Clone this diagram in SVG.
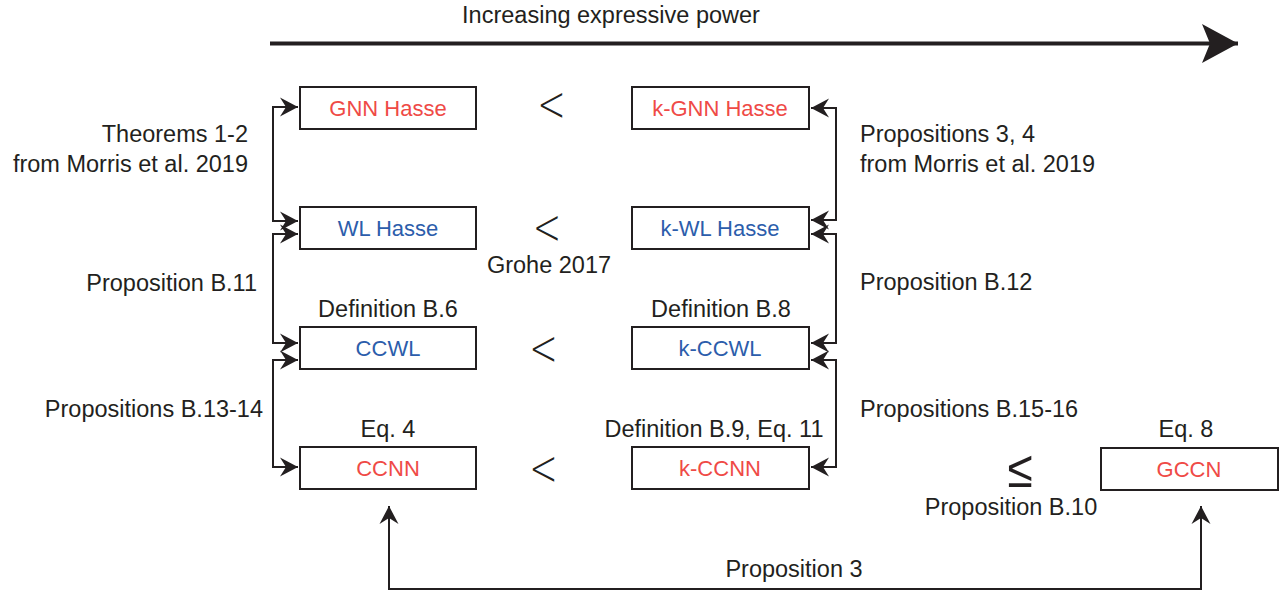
<svg xmlns="http://www.w3.org/2000/svg" width="1284" height="597" viewBox="0 0 1284 597">
<defs>
<style>
text{font-family:"Liberation Sans",Arial,sans-serif;fill:#231f20;font-size:23.5px}
.box{fill:#fff;stroke:#231f20;stroke-width:2}
.lbl{font-size:22px;text-anchor:middle}
.red{fill:#ef4a46}
.blue{fill:#2c5dab}
.mid{text-anchor:middle}
.end{text-anchor:end}
.cmp{font-family:"DejaVu Sans","Liberation Sans",sans-serif;font-size:40px;text-anchor:middle;font-weight:200}
.conn{fill:none;stroke:#231f20;stroke-width:2}
</style>
<marker id="ah" viewBox="-19 -10 20 20" refX="0" refY="0" markerWidth="20" markerHeight="20" markerUnits="userSpaceOnUse" orient="auto-start-reverse">
<path d="M0,0 L-18,-9.5 L-12,0 L-18,9.5 Z" fill="#231f20"/>
</marker>
<marker id="big" viewBox="-37 -20 38 40" refX="0" refY="0" markerWidth="38" markerHeight="40" markerUnits="userSpaceOnUse" orient="auto">
<path d="M0,0 L-36,-19.5 L-28,0 L-36,19.5 Z" fill="#231f20"/>
</marker>
</defs>
<rect width="1284" height="597" fill="#fff"/>

<g id="title">
<text x="611" y="23" class="mid">Increasing expressive power</text>
</g>

<g id="connectors">
<path d="M270,43.5 H1238" stroke="#231f20" stroke-width="4" fill="none" marker-end="url(#big)"/>
<path class="conn" d="M298,107 H273 V221 H298" marker-start="url(#ah)" marker-end="url(#ah)"/>
<path class="conn" d="M298,234 H273 V343 H298" marker-start="url(#ah)" marker-end="url(#ah)"/>
<path class="conn" d="M298,360 H273 V467 H298" marker-start="url(#ah)" marker-end="url(#ah)"/>
<path class="conn" d="M811,108 H836 V220 H811" marker-start="url(#ah)" marker-end="url(#ah)"/>
<path class="conn" d="M811,234 H836 V343 H811" marker-start="url(#ah)" marker-end="url(#ah)"/>
<path class="conn" d="M811,360 H836 V467 H811" marker-start="url(#ah)" marker-end="url(#ah)"/>
<path class="conn" d="M389,506 V589 H1201 V506" marker-start="url(#ah)" marker-end="url(#ah)"/>
</g>

<g id="labels">
<text x="248" y="142" class="end">Theorems 1-2</text>
<text x="248" y="172" class="end">from Morris et al. 2019</text>
<text x="860" y="142">Propositions 3, 4</text>
<text x="860" y="172">from Morris et al. 2019</text>
<text x="257" y="291" class="end">Proposition B.11</text>
<text x="860" y="290">Proposition B.12</text>
<text x="263" y="417" class="end">Propositions B.13-14</text>
<text x="860" y="417">Propositions B.15-16</text>
<text x="388" y="317" class="mid">Definition B.6</text>
<text x="721" y="317" class="mid">Definition B.8</text>
<text x="388" y="437" class="mid">Eq. 4</text>
<text x="714" y="437" class="mid">Definition B.9, Eq. 11</text>
<text x="1186" y="437" class="mid">Eq. 8</text>
<text x="549" y="273" class="mid">Grohe 2017</text>
<text x="1011" y="515" class="mid">Proposition B.10</text>
<text x="794" y="577" class="mid">Proposition 3</text>
<text class="cmp" transform="translate(551.5,120.5) scale(0.85,1.25)">&lt;</text>
<text class="cmp" transform="translate(547,243.5) scale(0.85,1.25)">&lt;</text>
<text class="cmp" transform="translate(543.5,365) scale(0.85,1.25)">&lt;</text>
<text class="cmp" transform="translate(543.5,485) scale(0.85,1.25)">&lt;</text>
<text class="cmp" transform="translate(1020,487) scale(1.15,1.3)">≤</text>
</g>

<g id="gnn-hasse"><rect class="box" x="300" y="87" width="176" height="42"/><text x="388" y="116" class="lbl red">GNN Hasse</text></g>
<g id="wl-hasse"><rect class="box" x="300" y="207" width="176" height="42"/><text x="388" y="236" class="lbl blue">WL Hasse</text></g>
<g id="ccwl"><rect class="box" x="300" y="327" width="176" height="42"/><text x="388" y="356" class="lbl blue">CCWL</text></g>
<g id="ccnn"><rect class="box" x="300" y="447" width="176" height="42"/><text x="388" y="476" class="lbl red">CCNN</text></g>
<g id="k-gnn-hasse"><rect class="box" x="632" y="87" width="177" height="42"/><text x="720" y="116" class="lbl red">k-GNN Hasse</text></g>
<g id="k-wl-hasse"><rect class="box" x="632" y="207" width="177" height="42"/><text x="720" y="236" class="lbl blue">k-WL Hasse</text></g>
<g id="k-ccwl"><rect class="box" x="632" y="327" width="177" height="42"/><text x="720" y="356" class="lbl blue">k-CCWL</text></g>
<g id="k-ccnn"><rect class="box" x="632" y="447" width="177" height="42"/><text x="720" y="476" class="lbl red">k-CCNN</text></g>
<g id="gccn"><rect class="box" x="1101" y="448" width="177" height="42"/><text x="1189" y="477" class="lbl red">GCCN</text></g>
</svg>
